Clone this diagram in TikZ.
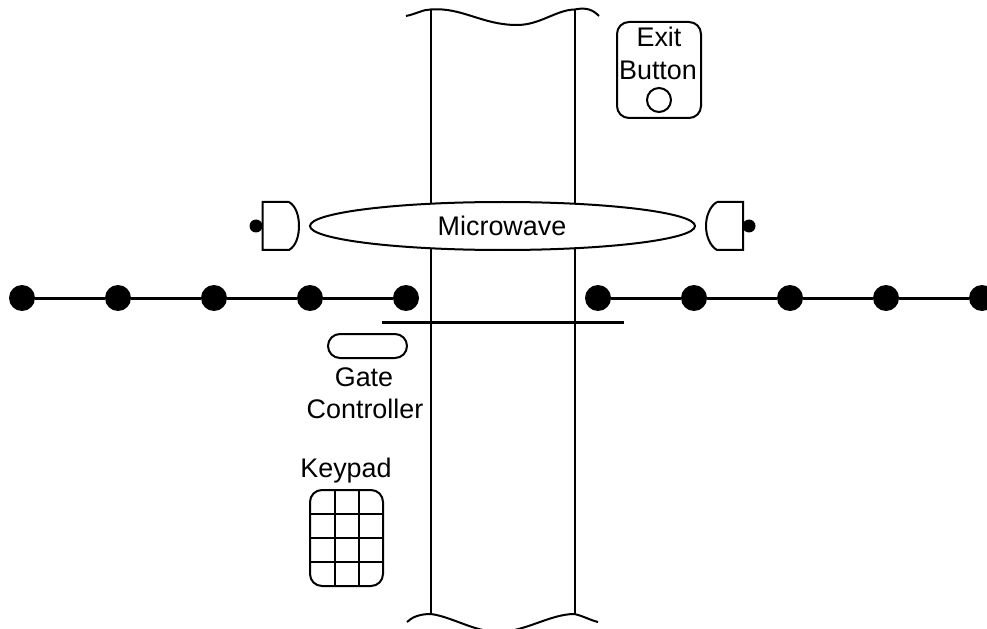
\documentclass[tikz,border=0pt]{standalone}
\usepackage{fontspec}
\setmainfont{Liberation Sans}
\usetikzlibrary{shapes.geometric}
\tikzset{
  x=1bp,y=-1bp,
  thin line/.style={draw=black,line width=2bp},
  thick line/.style={draw=black,line width=3bp},
  label text/.style={font=\fontsize{27}{30}\selectfont,anchor=base,inner sep=0pt,text=black},
  post/.style={circle,fill=black,draw=none,minimum size=26bp,inner sep=0pt,outer sep=0pt},
  pin dot/.style={circle,fill=black,draw=none,minimum size=13bp,inner sep=0pt,outer sep=0pt},
  rbox/.style={thin line,rectangle,rounded corners=12bp,inner sep=0pt,outer sep=0pt},
}
\begin{document}
\begin{tikzpicture}
\useasboundingbox (0,0) rectangle (987,629);
% road
\coordinate (tl) at (430.5,9.5);
\coordinate (tr) at (574.5,9.5);
\coordinate (bl) at (430.5,614);
\coordinate (br) at (574.5,614);
\draw[thin line] (tl) -- (bl);
\draw[thin line] (tr) -- (br);
\draw[thin line] (406,16) .. controls (416,14) and (423,9.5) .. (tl)
  .. controls (462,7) and (482,25) .. (517,25)
  .. controls (540,25) and (556,10) .. (tr)
  .. controls (587,7) and (593,10) .. (599,16);
\draw[thin line] (407,622) .. controls (412,617) and (420,614) .. (bl)
  .. controls (450,616) and (475,632) .. (498,632)
  .. controls (525,632) and (550,614) .. (br)
  .. controls (583,616) and (590,620) .. (598,622);
% microwave
\node[ellipse,thin line,fill=white,minimum width=385bp,minimum height=48bp,inner sep=0pt,outer sep=0pt] (mw) at (502.5,226) {};
\node[label text] (mwt) at (502,236) {Microwave};
% sensors
\draw[thin line,fill=white] (289,202) -- (262.5,202) -- (262.5,250) -- (289,250)
  .. controls (296,246) and (299,236) .. (299,226) .. controls (299,216) and (296,206) .. (289,202);
\node[pin dot] (pl) at (256,226) {};
\draw[thin line,fill=white] (717,202) -- (743,202) -- (743,250) -- (717,250)
  .. controls (710,246) and (706,236) .. (706,226) .. controls (706,216) and (710,206) .. (717,202);
\node[pin dot] (pr) at (749,226) {};
% fences
\foreach \n/\x in {a/22,b/118,c/214,d/310,e/406,f/598,g/694,h/790,i/886,j/982}
  \node[post] (\n) at (\x,298) {};
\draw[thick line] (a) -- (b) -- (c) -- (d) -- (e);
\draw[thick line] (f) -- (g) -- (h) -- (i) -- (j);
% gate
\coordinate (g1) at (382,322);
\coordinate (g2) at (623.5,322);
\draw[thick line] (g1) -- (g2);
\node[rbox,minimum width=79bp,minimum height=24bp] (gc) at (367.5,346) {};
\node[label text] (gt1) at (364,386) {Gate};
\node[label text] (gt2) at (365,418) {Controller};
% exit
\node[rbox,minimum width=84bp,minimum height=96bp] (ex) at (659,70) {};
\node[label text] (et1) at (659,47) {Exit};
\node[label text] (et2) at (658,80) {Button};
\node[circle,thin line,minimum size=24bp,inner sep=0pt,outer sep=0pt] (eb) at (659,100) {};
% keypad
\node[label text] (kt) at (346,477) {Keypad};
\node[rbox,minimum width=73bp,minimum height=96bp] (kp) at (346.5,538) {};
\foreach \x in {334.5,358.5} \draw[thin line] (\x,490) -- (\x,586);
\foreach \y in {513.5,538,562} \draw[thin line] (310,\y) -- (383,\y);
\end{tikzpicture}
\end{document}
